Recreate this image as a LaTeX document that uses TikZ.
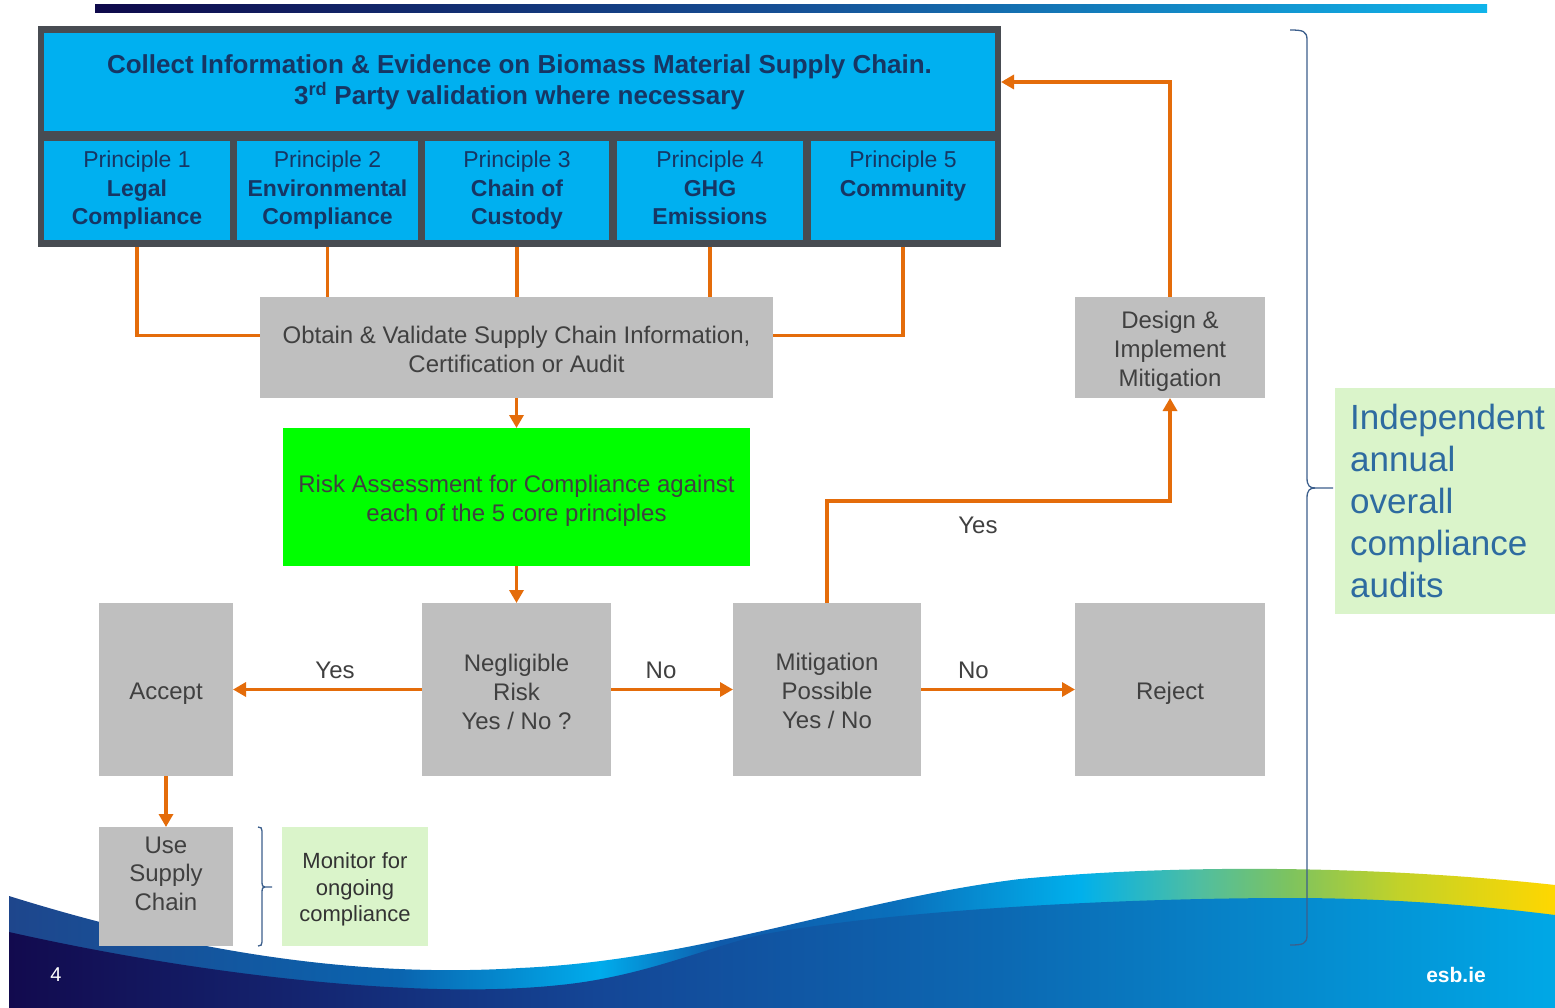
\documentclass[tikz,border=0pt]{standalone}
\usepackage{fontspec}
\setmainfont{Liberation Sans}
\usetikzlibrary{arrows.meta,calc}
\definecolor{orng}{RGB}{228,108,10}
\definecolor{cyanbox}{RGB}{0,176,240}
\definecolor{frameg}{RGB}{72,76,82}
\definecolor{navytxt}{RGB}{22,54,100}
\definecolor{grbox}{RGB}{191,191,191}
\definecolor{grtxt}{RGB}{64,64,64}
\definecolor{lgreen}{RGB}{218,244,202}
\definecolor{brgreen}{RGB}{0,255,0}
\definecolor{bracec}{RGB}{60,95,140}
\definecolor{indtxt}{RGB}{46,107,160}
% ribbon colours
\definecolor{ra}{RGB}{30,70,140}
\definecolor{rb}{RGB}{10,100,175}
\definecolor{rc}{RGB}{0,172,236}
\definecolor{rd}{RGB}{15,90,170}
\definecolor{re}{RGB}{10,112,188}
\definecolor{rf}{RGB}{0,176,236}
\definecolor{rg}{RGB}{80,190,160}
\definecolor{rh}{RGB}{125,195,95}
\definecolor{ri}{RGB}{195,210,40}
\definecolor{rj}{RGB}{255,215,0}
% body colours
\definecolor{ba}{RGB}{18,10,78}
\definecolor{bb}{RGB}{20,35,110}
\definecolor{bc}{RGB}{20,70,150}
\definecolor{bd}{RGB}{12,104,178}
\definecolor{be}{RGB}{0,168,230}
\pgfdeclarehorizontalshading{ribbonshade}{100bp}{color(0bp)=(ra); color(25bp)=(ra); color(37.6bp)=(rb); color(44.1bp)=(rc); color(48bp)=(rd); color(53.8bp)=(re); color(59.6bp)=(rf); color(63.5bp)=(rg); color(66.4bp)=(rh); color(70bp)=(ri); color(75bp)=(rj); color(100bp)=(rj)}
\pgfdeclarehorizontalshading{bodyshade}{100bp}{color(0bp)=(ba); color(25bp)=(ba); color(34bp)=(bb); color(44bp)=(bc); color(57bp)=(bd); color(75bp)=(be); color(100bp)=(be)}
\begin{document}
\begin{tikzpicture}[x=1pt,y=-1pt,
  toprule/.style={execute at begin node={\rule{0pt}{#1}}},
  bx/.style={anchor=north west, inner sep=0pt, outer sep=0pt, align=center},
  gbox/.style={bx, fill=grbox, text=grtxt, font=\fontsize{24}{29}\selectfont},
  pbox/.style={bx, fill=cyanbox, text=navytxt, minimum height=99pt, font=\fontsize{23}{28.5}\selectfont},
  conn/.style={draw=orng, line width=3.5pt},
  arr/.style={conn, -{Triangle[length=13pt,width=14pt]}},
  lbl/.style={text=grtxt, font=\fontsize{24}{28}\selectfont, inner sep=0pt},
  brc/.style={draw=bracec, line width=1.3pt}
]
\useasboundingbox (0,0) rectangle (1555,1008);
\fill[white] (0,0) rectangle (1555,1008);

% bottom wave
\shade[shading=ribbonshade] (9,1008) -- (9,896) .. controls (150,940) and (330,980) .. (520,968) .. controls (700,960) and (850,900) .. (1020,879) .. controls (1200,862) and (1400,868) .. (1555,885) -- (1555,1008) -- cycle;
\shade[shading=bodyshade] (9,1008) -- (9,932) .. controls (200,975) and (420,1000) .. (560,985) .. controls (640,977) and (700,950) .. (760,935) .. controls (880,912) and (1100,898) .. (1293,898) .. controls (1400,898) and (1500,908) .. (1555,915) -- (1555,1008) -- cycle;

% top bar
\shade[left color={rgb,255:red,15;green,10;blue,75}, right color={rgb,255:red,16;green,180;blue,234}, middle color={rgb,255:red,22;green,80;blue,150}] (95,5) rectangle (1487,13);

% top frame
\node[bx, fill=frameg, minimum width=963pt, minimum height=221pt] (frame) at (38,26) {};
\node[bx, fill=cyanbox, text=navytxt, minimum width=951pt, minimum height=98pt, font=\bfseries\fontsize{26}{31}\selectfont] (top) at (44,33)
  {Collect Information \& Evidence on Biomass Material Supply Chain.\\3\textsuperscript{rd} Party validation where necessary};
\node[pbox, minimum width=186pt] (p1) at (44,141) {\strut Principle 1\\\textbf{Legal}\\\textbf{Compliance}\strut};
\node[pbox, minimum width=181pt] (p2) at (237,141) {\strut Principle 2\\\textbf{Environmental}\\\textbf{Compliance}\strut};
\node[pbox, minimum width=184pt] (p3) at (425,141) {\strut Principle 3\\\textbf{Chain of}\\\textbf{Custody}\strut};
\node[pbox, minimum width=186pt] (p4) at (617,141) {\strut Principle 4\\\textbf{GHG}\\\textbf{Emissions}\strut};
\node[pbox, minimum width=184pt] (p5) at (811,141) {\strut Principle 5\\\textbf{Community}\\\strut};

% process boxes
\node[gbox, toprule=50.5pt, minimum width=513pt, minimum height=101pt] (obtain) at (260,297) {Obtain \& Validate Supply Chain Information,\\Certification or Audit};
\node[gbox, toprule=54.5pt, fill=brgreen, minimum width=467pt, minimum height=138pt] (risk) at (283,428) {Risk Assessment for Compliance against\\each of the 5 core principles};
\node[gbox, toprule=83.5pt, minimum width=190pt, minimum height=101pt] (design) at (1075,297) {Design \&\\Implement\\Mitigation};
\node[gbox, toprule=24pt, minimum width=134pt, minimum height=173pt] (accept) at (99,603) {Accept};
\node[gbox, toprule=79.5pt, minimum width=189pt, minimum height=173pt] (negl) at (422,603) {Negligible\\Risk\\Yes / No ?};
\node[gbox, toprule=79pt, minimum width=188pt, minimum height=173pt] (mit) at (733,603) {Mitigation\\Possible\\Yes / No};
\node[gbox, toprule=24pt, minimum width=190pt, minimum height=173pt] (reject) at (1075,603) {Reject};
\node[bx, fill=grbox, minimum width=134pt, minimum height=119pt] (use) at (99,827) {};
\node[text=grtxt, align=center, inner sep=0pt, font=\fontsize{24}{28.5}\selectfont] (usetxt) at ($(use.center)+(0,-13)$) {Use\\Supply\\Chain};
\node[gbox, toprule=75pt, fill=lgreen, text={rgb,255:red,51;green,51;blue,51}, minimum width=146pt, minimum height=119pt, font=\fontsize{22}{26.5}\selectfont] (monitor) at (282,827) {Monitor for\\ongoing\\compliance};
\node[bx, fill=lgreen, minimum width=220pt, minimum height=226pt] (indep) at (1335,388) {};
\node[anchor=west, align=left, inner sep=0pt, text=indtxt, font=\fontsize{35}{42}\selectfont] (indtxt) at (1350,501) {Independent\\annual\\overall\\compliance\\audits};

% connectors from principles
\draw[conn] (p1.south |- frame.south) |- ($(obtain.west)+(0,-12)$);
\draw[conn] (p2.south |- frame.south) -- (p2.south |- obtain.north);
\draw[conn] (p3.south |- frame.south) -- (p3.south |- obtain.north);
\draw[conn] (p4.south |- frame.south) -- (p4.south |- obtain.north);
\draw[conn] (p5.south |- frame.south) |- ($(obtain.east)+(0,-12)$);

% flow arrows
\draw[arr] (obtain.south) -- (risk.north);
\draw[arr] (risk.south) -- (negl.north);
\draw[arr] (negl.west) -- node[lbl, pos=0.46, yshift=19pt] {Yes} (accept.east);
\draw[arr] (negl.east) -- node[lbl, pos=0.41, yshift=19pt] {No} (mit.west);
\draw[arr] (mit.east) -- node[lbl, pos=0.34, yshift=19pt] {No} (reject.west);
\coordinate (yesbend) at (1170,501);
\draw[arr] (mit.north) |- node[lbl, pos=0.72, yshift=-24pt] {Yes} (yesbend) -- (design.south);
\draw[arr] (design.north) |- (frame.east |- top.east);
\draw[arr] (accept.south) -- (use.north);

% braces
\draw[brc] (1290,30) .. controls (1303,30) and (1307,31) .. (1307,40) -- (1307,478)
  .. controls (1307,486) and (1310,488) .. (1315,488) -- (1333,488);
\draw[brc] (1315,488) .. controls (1310,488) and (1307,490) .. (1307,498) -- (1307,935)
  .. controls (1307,944) and (1303,945) .. (1290,945);
\draw[brc] (258,827) .. controls (261,827) and (262,828) .. (262,831) -- (262,882)
  .. controls (262,886) and (263,887) .. (265,887) -- (272,887);
\draw[brc] (265,887) .. controls (263,887) and (262,888) .. (262,892) -- (262,942)
  .. controls (262,945) and (261,946) .. (258,946);

% footer
\node[text=white, font=\fontsize{20}{24}\selectfont, inner sep=0pt] (pgnum) at (56,975) {4};
\node[text=white, font=\bfseries\fontsize{21}{24}\selectfont, inner sep=0pt] (esb) at (1456,975) {esb.ie};
\end{tikzpicture}
\end{document}
